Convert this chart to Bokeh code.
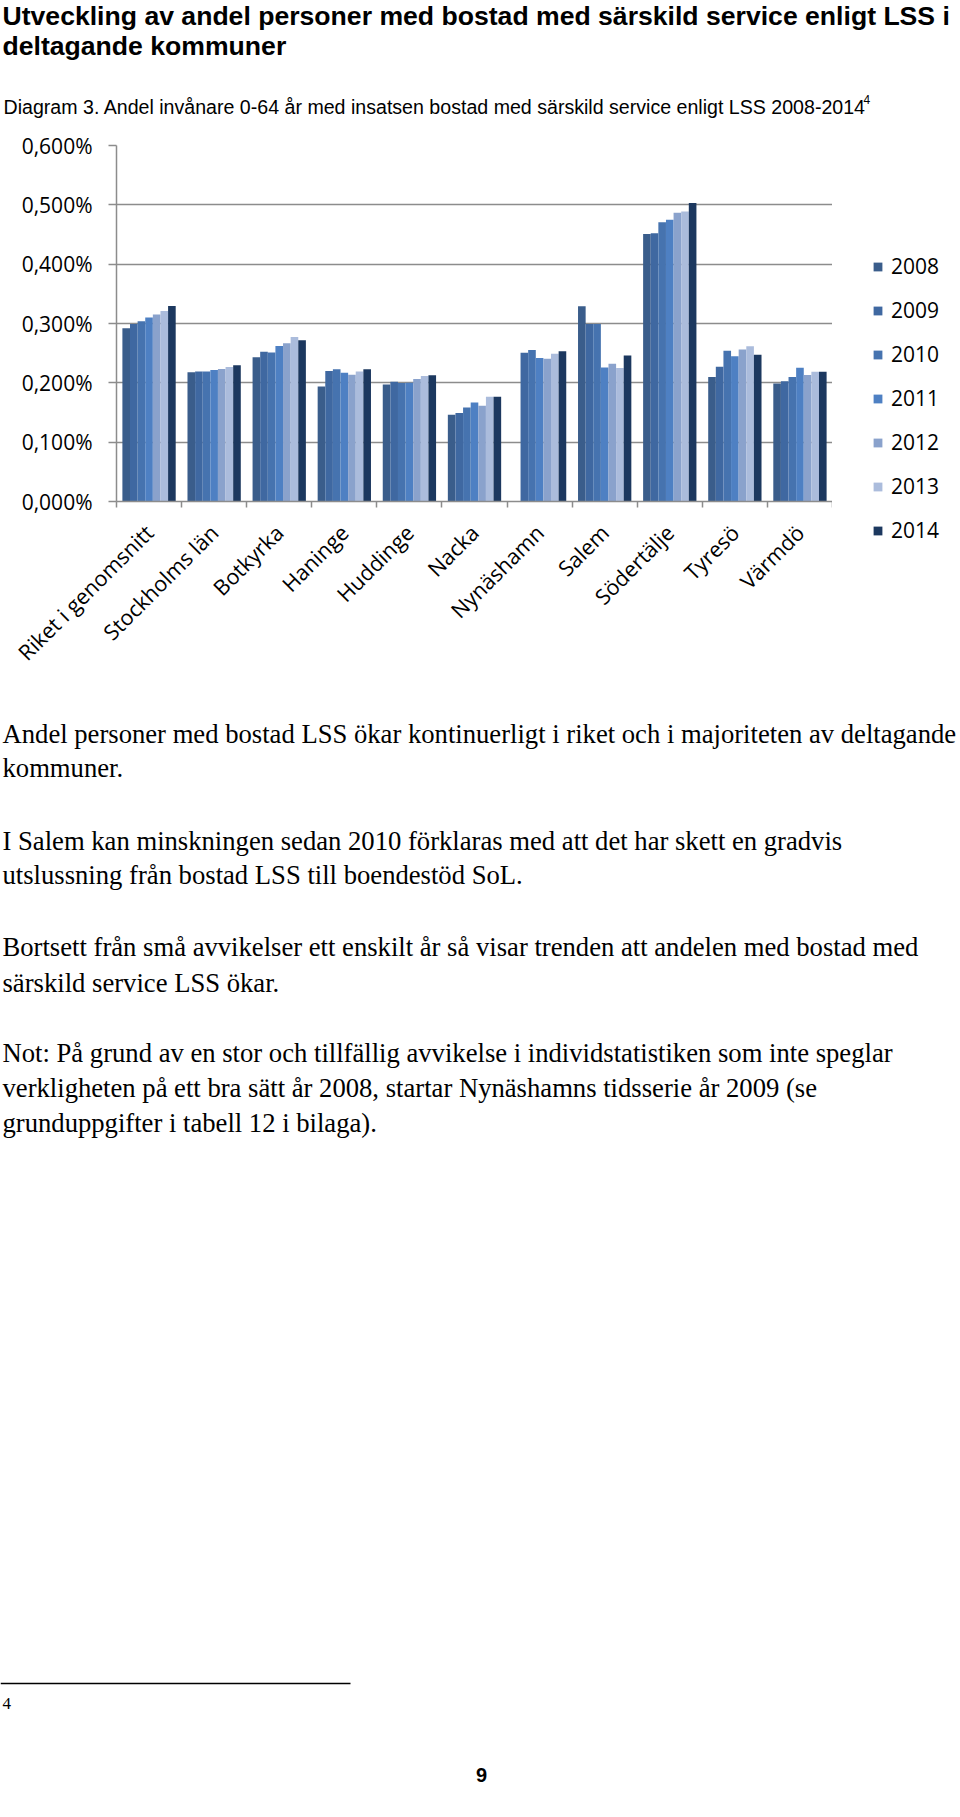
import math
from bokeh.plotting import figure
from bokeh.models import (Range1d, FixedTicker, Legend, LegendItem, Label,
                          ColumnDataSource)
from bokeh.layouts import column, row
from bokeh.transform import dodge
from bokeh.embed import file_html
from bokeh.resources import INLINE

# ---------------- data ----------------
title_lines = ["Utveckling av andel personer med bostad med särskild service enligt LSS i",
               "deltagande kommuner"]
caption = "Diagram 3. Andel invånare 0-64 år med insatsen bostad med särskild service enligt LSS 2008-2014"
caption_sup = "4"

categories = ["Riket i genomsnitt", "Stockholms län", "Botkyrka", "Haninge", "Huddinge",
              "Nacka", "Nynäshamn", "Salem", "Södertälje", "Tyresö", "Värmdö"]
years = ["2008", "2009", "2010", "2011", "2012", "2013", "2014"]
nan = float("nan")
v2008 = [0.292, 0.218, 0.243, 0.194, 0.197, 0.146, nan, 0.329, 0.451, 0.210, 0.199]
v2009 = [0.299, 0.219, 0.2525, 0.220, 0.202, 0.149, 0.2505, 0.299, 0.452, 0.227, 0.2025]
v2010 = [0.304, 0.219, 0.251, 0.2227, 0.1996, 0.1586, 0.2554, 0.299, 0.4705, 0.254, 0.2098]
v2011 = [0.310, 0.2216, 0.262, 0.217, 0.200, 0.167, 0.2419, 0.226, 0.475, 0.245, 0.2255]
v2012 = [0.315, 0.2233, 0.2666, 0.2137, 0.2064, 0.1614, 0.2407, 0.2323, 0.4865, 0.256, 0.2131]
v2013 = [0.321, 0.2266, 0.2773, 0.2193, 0.2114, 0.1766, 0.249, 0.225, 0.4887, 0.2615, 0.2188]
v2014 = [0.3296, 0.2295, 0.2716, 0.2227, 0.2126, 0.1766, 0.2533, 0.2461, 0.5030, 0.2475, 0.2188]
series = [v2008, v2009, v2010, v2011, v2012, v2013, v2014]
colors = ["#3a5d8b", "#3f68a1", "#4673af", "#4e80c3", "#8aa2cc", "#abbcdc", "#1c385f"]

y_ticks = [0.0, 0.1, 0.2, 0.3, 0.4, 0.5, 0.6]
y_tick_labels = ["0,000%", "0,100%", "0,200%", "0,300%", "0,400%", "0,500%", "0,600%"]

body_lines = [
    "Andel personer med bostad LSS ökar kontinuerligt i riket och i majoriteten av deltagande",
    "kommuner.",
    "I Salem kan minskningen sedan 2010 förklaras med att det har skett en gradvis",
    "utslussning från bostad LSS till boendestöd SoL.",
    "Bortsett från små avvikelser ett enskilt år så visar trenden att andelen med bostad med",
    "särskild service LSS ökar.",
    "Not: På grund av en stor och tillfällig avvikelse i individstatistiken som inte speglar",
    "verkligheten på ett bra sätt år 2008, startar Nynäshamns tidsserie år 2009 (se",
    "grunduppgifter i tabell 12 i bilaga).",
]
body_y = [43, 77, 150, 184, 256, 292, 362, 397, 432]
footnote = "4"
page_number = "9"

W = 958
H_TOP = 125
H_CHART = 565
H_BOTTOM = 1815 - H_TOP - H_CHART
CHART_W = 832


def text_fig(w, h):
    f = figure(width=w, height=h, x_range=Range1d(0, w), y_range=Range1d(h, 0),
               output_backend="svg", toolbar_location=None, min_border=0, title=None,
               x_axis_location=None, y_axis_location=None, frame_align=False)
    f.grid.visible = False
    f.outline_line_color = None
    return f


# ---------------- top texts ----------------
top = text_fig(W, H_TOP)
for i, t in enumerate(title_lines):
    top.add_layout(Label(x=2, y=15 + 30 * i, text=t, text_font="Liberation Sans",
                         text_font_style="bold", text_font_size="26.6px",
                         text_baseline="middle", text_color="#000000"))
top.add_layout(Label(x=3, y=106, text=caption, text_font="Liberation Sans",
                     text_font_size="19.6px", text_baseline="middle",
                     text_color="#000000"))
top.add_layout(Label(x=863, y=99, text=caption_sup, text_font="Liberation Sans",
                     text_font_size="12px", text_baseline="middle",
                     text_color="#000000"))

# ---------------- chart ----------------
p = figure(width=CHART_W, height=H_CHART, x_range=Range1d(0.5, 11.5),
           y_range=Range1d(0, 0.6),
           min_border_left=116, min_border_right=0, min_border_top=20,
           min_border_bottom=189, title=None, toolbar_location=None,
           output_backend="svg", frame_align=False)
p.outline_line_color = None
p.xgrid.visible = False
p.ygrid.ticker = FixedTicker(ticks=y_ticks)
p.ygrid.grid_line_color = "#8c8c8c"
p.ygrid.grid_line_width = 1.5

src = ColumnDataSource(dict(x=list(range(1, len(categories) + 1)),
                            **{y: s for y, s in zip(years, series)}))
bw = 0.117
for k, (yr, col) in enumerate(zip(years, colors)):
    p.vbar(x=dodge("x", (k - 3) * bw, range=p.x_range), top=yr, width=bw,
           source=src, fill_color=col, line_color=None)

xa = p.xaxis[0]
xa.ticker = FixedTicker(ticks=list(range(1, len(categories) + 1)),
                        minor_ticks=[i + 0.5 for i in range(len(categories) + 1)])
xa.major_label_overrides = {i + 1: c for i, c in enumerate(categories)}
xa.major_tick_out = 0
xa.major_tick_in = 0
xa.minor_tick_out = 6
xa.minor_tick_in = 0
xa.minor_tick_line_color = "#8c8c8c"
xa.minor_tick_line_width = 1.5
xa.axis_line_color = "#8c8c8c"
xa.axis_line_width = 1.5
xa.major_label_orientation = math.pi / 4
xa.major_label_standoff = 21
xa.major_label_text_font = "Open Sans"
xa.major_label_text_font_size = "21.5px"
xa.major_label_text_color = "#000000"

ya = p.yaxis[0]
ya.ticker = FixedTicker(ticks=y_ticks)
ya.major_label_overrides = {t: l for t, l in zip(y_ticks, y_tick_labels)}
ya.major_tick_out = 8
ya.major_tick_in = 0
ya.major_tick_line_color = "#8c8c8c"
ya.major_tick_line_width = 1.5
ya.minor_tick_line_color = None
ya.axis_line_color = "#8c8c8c"
ya.axis_line_width = 1.5
ya.major_label_standoff = 16
ya.major_label_text_font = "Open Sans"
ya.major_label_text_font_size = "21px"
ya.major_label_text_color = "#000000"

# ---------------- legend (separate panel to the right of the chart) ----------------
lf = figure(width=W - CHART_W, height=H_CHART, x_range=Range1d(0, 1), y_range=Range1d(0, 1),
            output_backend="svg", toolbar_location=None, min_border=0, title=None,
            x_axis_location=None, y_axis_location=None, frame_align=False)
lf.grid.visible = False
lf.outline_line_color = None
items = []
for yr, col in zip(years, colors):
    # swatch-only renderer, its single bar lies outside the visible range
    r = lf.vbar(x=[5.0], top=[5.0], bottom=[4.0], width=0.1, fill_color=col,
                line_color=None)
    items.append(LegendItem(label=yr, renderers=[r], index=0))
legend = Legend(items=items, location=(40, 146), orientation="vertical",
                glyph_width=11, glyph_height=11, label_height=20, spacing=16,
                label_standoff=8, padding=0, margin=0, border_line_color=None,
                background_fill_alpha=0, label_text_font="Open Sans",
                label_text_font_size="21px", label_text_color="#000000")
lf.add_layout(legend, "center")

# ---------------- bottom texts ----------------
bot = text_fig(W, H_BOTTOM)
for t, yy in zip(body_lines, body_y):
    bot.add_layout(Label(x=2, y=yy, text=t, text_font="Liberation Serif",
                         text_font_size="26.65px", text_baseline="middle",
                         text_color="#000000"))
bot.line(x=[0, 350], y=[993, 993], line_color="#000000", line_width=1.5)
bot.add_layout(Label(x=2, y=1013, text=footnote, text_font="Liberation Serif",
                     text_font_size="17px", text_baseline="middle", text_color="#000000"))
bot.add_layout(Label(x=481, y=1084, text=page_number, text_font="Liberation Sans",
                     text_font_style="bold", text_font_size="20px", text_baseline="middle",
                     text_align="center", text_color="#000000"))

layout = column(top, row(p, lf, spacing=0), bot, spacing=0)
open("out.html", "w").write(file_html(layout, INLINE))
